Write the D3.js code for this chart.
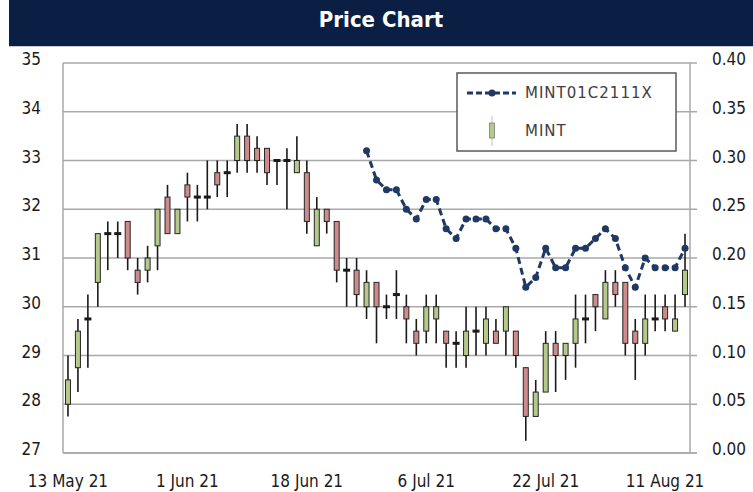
<!DOCTYPE html>
<html>
<head>
<meta charset="utf-8">
<script src="https://cdn.jsdelivr.net/npm/d3@7"></script>
<style>
  body { margin: 0; background: #fff; }
</style>
</head>
<body>
<svg id="svg" width="753" height="492"></svg>
<script>
// trading days shown on the x axis
const dates = [
  '13 May 21', '14 May 21', '17 May 21', '18 May 21', '19 May 21', '20 May 21', '21 May 21', '24 May 21', '25 May 21', '27 May 21',
  '28 May 21', '31 May 21', '1 Jun 21', '2 Jun 21', '4 Jun 21', '7 Jun 21', '8 Jun 21', '9 Jun 21', '10 Jun 21', '11 Jun 21',
  '14 Jun 21', '15 Jun 21', '16 Jun 21', '17 Jun 21', '18 Jun 21', '21 Jun 21', '22 Jun 21', '23 Jun 21', '24 Jun 21', '25 Jun 21',
  '28 Jun 21', '29 Jun 21', '30 Jun 21', '1 Jul 21', '2 Jul 21', '5 Jul 21', '6 Jul 21', '7 Jul 21', '8 Jul 21', '9 Jul 21',
  '12 Jul 21', '13 Jul 21', '14 Jul 21', '15 Jul 21', '16 Jul 21', '19 Jul 21', '20 Jul 21', '21 Jul 21', '22 Jul 21', '23 Jul 21',
  '27 Jul 21', '29 Jul 21', '30 Jul 21', '2 Aug 21', '3 Aug 21', '4 Aug 21', '5 Aug 21', '6 Aug 21', '9 Aug 21', '10 Aug 21',
  '11 Aug 21', '13 Aug 21', '16 Aug 21'
]

// MINT daily prices
const open = [
  28.0, 28.75, 29.75, 30.5, 31.5, 31.5, 31.75, 30.75, 30.75, 31.25,
  32.25, 31.5, 32.5, 32.25, 32.25, 32.75, 32.75, 33.0, 33.5, 33.25,
  33.25, 33.0, 33.0, 32.75, 32.75, 31.25, 32.0, 31.75, 30.75, 30.75,
  30.0, 30.5, 30.0, 30.25, 30.0, 29.5, 29.5, 29.75, 29.5, 29.25,
  29.0, 29.5, 29.25, 29.5, 29.5, 29.5, 28.75, 27.75, 28.25, 29.25,
  29.0, 29.25, 29.75, 30.25, 29.75, 30.5, 30.5, 29.5, 29.25, 29.75,
  30.0, 29.5, 30.25
]
const high = [
  29.0, 29.75, 30.25, 31.5, 31.75, 31.75, 31.75, 31.0, 31.25, 32.0,
  32.5, 32.0, 32.75, 32.5, 33.0, 33.0, 33.0, 33.75, 33.75, 33.5,
  33.25, 33.0, 33.25, 33.5, 33.0, 32.25, 32.0, 31.75, 31.0, 31.0,
  30.75, 30.5, 30.25, 30.75, 30.25, 29.75, 30.25, 30.25, 29.5, 29.5,
  30.0, 30.0, 30.0, 29.75, 30.0, 29.5, 28.75, 28.5, 29.5, 29.5,
  29.25, 30.25, 30.25, 30.25, 30.75, 30.75, 30.5, 29.75, 30.25, 30.25,
  30.25, 30.25, 31.5
]
const low = [
  27.75, 28.25, 28.75, 30.0, 30.75, 31.0, 30.75, 30.25, 30.5, 30.75,
  31.5, 31.5, 31.75, 31.75, 32.0, 32.25, 32.25, 32.75, 32.75, 32.75,
  32.5, 32.5, 32.0, 32.75, 31.5, 31.25, 31.5, 30.5, 30.0, 30.0,
  29.75, 29.25, 29.75, 29.75, 29.25, 29.0, 29.25, 29.25, 28.75, 28.75,
  28.75, 29.0, 29.0, 29.25, 29.0, 28.75, 27.25, 27.75, 28.25, 28.25,
  28.5, 28.75, 29.25, 29.5, 29.75, 30.0, 29.0, 28.5, 29.0, 29.5,
  29.5, 29.5, 30.0
]
const close = [
  28.5, 29.5, 29.75, 31.5, 31.5, 31.5, 31.0, 30.5, 31.0, 32.0,
  31.5, 32.0, 32.25, 32.25, 32.25, 32.5, 32.75, 33.5, 33.0, 33.0,
  32.75, 33.0, 33.0, 33.0, 31.75, 32.0, 31.75, 30.75, 30.75, 30.25,
  30.5, 30.0, 30.0, 30.25, 29.75, 29.25, 30.0, 30.0, 29.25, 29.25,
  29.5, 29.5, 29.75, 29.25, 30.0, 29.0, 27.75, 28.25, 29.25, 29.0,
  29.25, 29.75, 29.75, 30.0, 30.5, 30.25, 29.25, 29.25, 29.75, 29.75,
  29.75, 29.75, 30.75
]

// MINT01C2111X warrant, right axis, starting on warrantFrom
const warrantFrom = '28 Jun 21'
const warrant = [
  0.31, 0.28, 0.27, 0.27, 0.25, 0.24, 0.26, 0.26, 0.23, 0.22,
  0.24, 0.24, 0.24, 0.23, 0.23, 0.21, 0.17, 0.18, 0.21, 0.19,
  0.19, 0.21, 0.21, 0.22, 0.23, 0.22, 0.19, 0.17, 0.20, 0.19,
  0.19, 0.19, 0.21
]

const leftTicks = [27, 28, 29, 30, 31, 32, 33, 34, 35]
const rightTicks = [0, 0.05, 0.10, 0.15, 0.20, 0.25, 0.30, 0.35, 0.40]
const dateTicks = ['13 May 21', '1 Jun 21', '18 Jun 21', '6 Jul 21', '22 Jul 21', '11 Aug 21']

const width = 753
const height = 492
const plotLeft = 63
const plotRight = 690
const plotTop = 63
const plotBottom = 453

const gridColour = '#a9a9a9'
const navy = '#1f3864'
const upColour = '#b4c98a'
const downColour = '#cf8b8b'
const tickFont = '"DejaVu Sans Condensed", "DejaVu Sans", sans-serif'

const svg = d3.select('#svg')

svg.append('rect')
  .attr('width', width)
  .attr('height', height)
  .attr('fill', '#fff')

// title bar
svg.append('rect')
  .attr('x', 9)
  .attr('y', 0)
  .attr('width', width - 9)
  .attr('height', 46)
  .attr('fill', '#0b1f45')

svg.append('line')
  .attr('x1', 9).attr('x2', width)
  .attr('y1', 46.5).attr('y2', 46.5)
  .attr('stroke', '#c8cdd6')

svg.append('text')
  .text('Price Chart')
  .attr('x', 381)
  .attr('y', 27)
  .style('font-family', tickFont)
  .style('font-weight', 'bold')
  .style('font-size', '22px')
  .style('text-anchor', 'middle')
  .style('fill', '#fff')

const candles = dates.map((d, i) => ({ date: d, open: open[i], high: high[i], low: low[i], close: close[i] }))
const warrantStart = dates.indexOf(warrantFrom)
const warrantData = warrant.map((v, i) => ({ date: dates[warrantStart + i], value: v }))

const x = d3.scaleBand()
  .domain(dates)
  .range([plotLeft, plotRight])

const xc = d => x(d) + x.bandwidth() / 2

const y = d3.scaleLinear()
  .domain([27, 35])
  .range([plotBottom, plotTop])

const yRight = d3.scaleLinear()
  .domain([0, 0.4])
  .range([plotBottom, plotTop])

// gridlines
svg.append('g')
  .selectAll('line')
  .data(leftTicks)
  .join('line')
  .attr('x1', plotLeft)
  .attr('x2', plotRight + 7)
  .attr('y1', d => y(d))
  .attr('y2', d => y(d))
  .attr('stroke', gridColour)
  .attr('stroke-width', 1.5)

svg.append('line')
  .attr('x1', plotLeft).attr('x2', plotLeft)
  .attr('y1', plotTop).attr('y2', plotBottom)
  .attr('stroke', gridColour)
  .attr('stroke-width', 1.5)

svg.append('line')
  .attr('x1', plotRight).attr('x2', plotRight)
  .attr('y1', plotTop).attr('y2', plotBottom)
  .attr('stroke', gridColour)
  .attr('stroke-width', 1.5)

// axis labels
svg.append('g')
  .selectAll('text')
  .data(leftTicks)
  .join('text')
  .text(d => d)
  .attr('x', 41)
  .attr('y', d => y(d) + 2)
  .style('font-family', tickFont)
  .style('font-size', '17px')
  .style('text-anchor', 'end')
  .style('fill', '#1a1a1a')

svg.append('g')
  .selectAll('text')
  .data(rightTicks)
  .join('text')
  .text(d => d3.format('.2f')(d))
  .attr('x', 712)
  .attr('y', d => yRight(d) + 2)
  .style('font-family', tickFont)
  .style('font-size', '17px')
  .style('text-anchor', 'start')
  .style('fill', '#1a1a1a')

svg.append('g')
  .selectAll('text')
  .data(dateTicks)
  .join('text')
  .text(d => d)
  .attr('x', d => xc(d))
  .attr('y', 487)
  .style('font-family', tickFont)
  .style('font-size', '17px')
  .style('text-anchor', 'middle')
  .style('fill', '#1a1a1a')

// candles
const candle = svg.append('g')
  .selectAll('g')
  .data(candles)
  .join('g')

candle.append('line')
  .attr('x1', d => xc(d.date))
  .attr('x2', d => xc(d.date))
  .attr('y1', d => y(d.high))
  .attr('y2', d => y(d.low))
  .attr('stroke', '#1a1a1a')
  .attr('stroke-width', 1.6)

candle.filter(d => d.open !== d.close)
  .append('rect')
  .attr('x', d => xc(d.date) - 2.5)
  .attr('width', 5)
  .attr('y', d => y(Math.max(d.open, d.close)))
  .attr('height', d => Math.abs(y(d.open) - y(d.close)))
  .attr('fill', d => d.close > d.open ? upColour : downColour)
  .attr('stroke', '#262626')
  .attr('stroke-width', 1)

candle.filter(d => d.open === d.close)
  .append('rect')
  .attr('x', d => xc(d.date) - 3.5)
  .attr('width', 7)
  .attr('y', d => y(d.close) - 1.5)
  .attr('height', 3)
  .attr('fill', '#1a1a1a')

// warrant line
const line = d3.line()
  .x(d => xc(d.date))
  .y(d => yRight(d.value))

svg.append('path')
  .datum(warrantData)
  .attr('d', line)
  .attr('fill', 'none')
  .attr('stroke', navy)
  .attr('stroke-width', 3)
  .attr('stroke-dasharray', '7,4')

svg.append('g')
  .selectAll('circle')
  .data(warrantData)
  .join('circle')
  .attr('cx', d => xc(d.date))
  .attr('cy', d => yRight(d.value))
  .attr('r', 3.5)
  .attr('fill', navy)

// bottom axis line
svg.append('line')
  .attr('x1', plotLeft).attr('x2', plotRight + 7)
  .attr('y1', plotBottom).attr('y2', plotBottom)
  .attr('stroke', gridColour)
  .attr('stroke-width', 1.5)

// legend
const legend = svg.append('g')
  .attr('transform', 'translate(457, 73)')

legend.append('rect')
  .attr('width', 219)
  .attr('height', 78)
  .attr('fill', '#fff')
  .attr('stroke', '#595959')
  .attr('stroke-width', 1.5)

legend.append('line')
  .attr('x1', 10).attr('x2', 59)
  .attr('y1', 20).attr('y2', 20)
  .attr('stroke', navy)
  .attr('stroke-width', 3)
  .attr('stroke-dasharray', '6,3')

legend.append('circle')
  .attr('cx', 35)
  .attr('cy', 20)
  .attr('r', 3.5)
  .attr('fill', navy)

legend.append('line')
  .attr('x1', 35).attr('x2', 35)
  .attr('y1', 43).attr('y2', 73)
  .attr('stroke', '#c0c0c0')
  .attr('stroke-width', 1)

legend.append('rect')
  .attr('x', 32.5)
  .attr('y', 50)
  .attr('width', 5)
  .attr('height', 15)
  .attr('fill', upColour)
  .attr('stroke', '#7a7a7a')
  .attr('stroke-width', 0.8)

legend.selectAll('text.label')
  .data(['MINT01C2111X', 'MINT'])
  .join('text')
  .attr('class', 'label')
  .text(d => d)
  .attr('x', 68)
  .attr('y', (d, i) => 25 + i * 38)
  .style('font-family', '"DejaVu Sans", sans-serif')
  .style('font-size', '15px')
  .style('letter-spacing', '1px')
  .style('fill', '#404040')
</script>
</body>
</html>
